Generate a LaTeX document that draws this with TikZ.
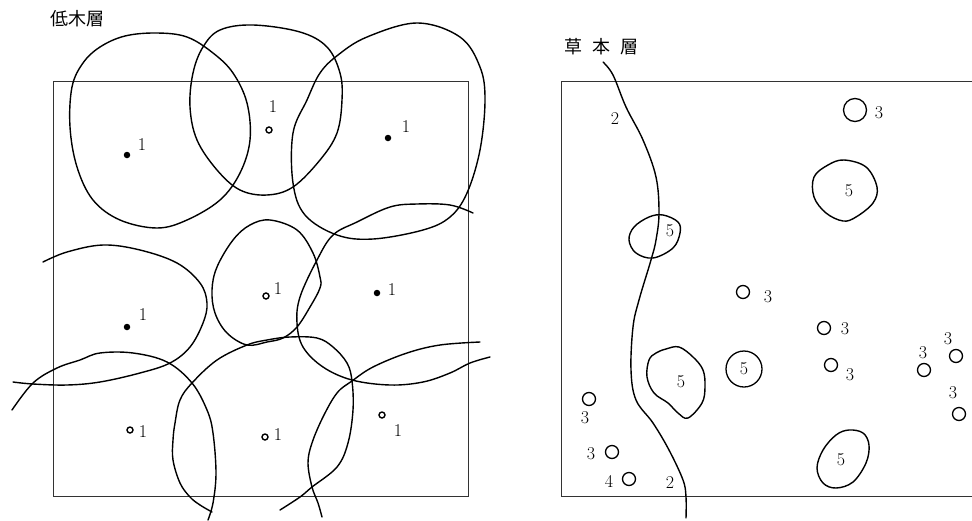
\documentclass[tikz,border=0pt]{standalone}
\usepackage{fontspec}
\newfontfamily\jpfont{Noto Sans CJK JP}
\begin{document}
\begin{tikzpicture}[x=1pt,y=-1pt,
  frame/.style={line width=1pt,black!80},
  curve/.style={line width=1.4pt,line join=round,line cap=round},
  dot/.style={circle,fill=black,inner sep=0pt,minimum size=6.5pt},
  ring/.style={circle,draw=black,line width=1.4pt,fill=white,inner sep=0pt,minimum size=6pt},
  plant/.style={circle,draw=black,line width=1.3pt,inner sep=0pt,minimum size=13pt},
  num/.style={inner sep=0pt,font=\fontsize{18}{18}\selectfont},
  title/.style={inner sep=0pt,font=\jpfont\fontsize{18}{18}\selectfont}]
\useasboundingbox (0,0) rectangle (972,520);

% ---------- shrub layer ----------
\node[title,anchor=west] (tshrub) at (50,19) {低木層};
\draw[frame] (53,81) rectangle (468,496);

% crown outlines
\draw[curve] plot[smooth cycle,tension=0.6] coordinates {(157,33) (187,37) (213,53) (233,73) (247,103) (250,140) (240,173) (220,200) (187,220) (157,228) (120,220) (93,200) (77,167) (70,127) (72,87) (83,63) (100,47) (125,36)};
\draw[curve] plot[smooth cycle,tension=0.6] coordinates {(220,30) (253,25) (300,32) (327,47) (340,73) (342,100) (337,133) (320,160) (293,187) (267,195) (240,190) (217,170) (197,140) (190,107) (193,73) (203,47)};
\draw[curve] plot[smooth cycle,tension=0.6] coordinates {(367,37) (417,23) (460,37) (480,67) (485,100) (480,150) (467,193) (450,217) (423,230) (373,239) (337,235) (305,215) (293,183) (293,133) (307,100) (320,73) (338,55)};
\draw[curve] plot[smooth,tension=0.6] coordinates {(43,262) (67,252) (103,245) (140,250) (177,263) (200,283) (207,303) (203,323) (190,347) (170,363) (140,373) (100,382) (67,385) (33,384) (13,382)};
\draw[curve] plot[smooth,tension=0.6] coordinates {(12,410) (33,383) (57,368) (80,360) (100,353) (133,353) (167,362) (192,383) (207,410) (213,433) (216,473) (213,503) (208,520)};
\draw[curve] plot[smooth cycle,tension=0.6] coordinates {(270,220) (297,230) (313,253) (320,277) (320,288) (310,307) (297,327) (283,338) (267,342) (247,345) (227,333) (215,313) (212,290) (217,267) (233,240) (250,225)};
\draw[curve] plot[smooth,tension=0.6] coordinates {(473,213) (450,205) (417,204) (390,207) (357,222) (333,235) (317,260) (300,297) (297,323) (303,347) (323,367) (352,380) (390,385) (423,382) (450,373) (470,363) (490,357)};
\draw[curve] plot[smooth,tension=0.6] coordinates {(212,512) (200,505) (190,497) (180,483) (173,460) (173,440) (175,423) (180,400) (192,383) (217,360) (247,345) (267,340) (290,337) (317,338) (333,347) (347,363) (352,381) (353,410) (348,443) (337,467) (312,487) (300,497) (280,510)};
\draw[curve] plot[smooth,tension=0.6] coordinates {(480,342) (440,345) (407,353) (373,367) (352,381) (337,393) (323,417) (312,443) (308,463) (312,487) (318,503) (322,517)};

% shrubs
\node[dot]  (s1) at (127,155) {};  \node[num] (l1) at (142,145) {1};
\node[ring] (s2) at (269,130) {};  \node[num] (l2) at (273,107) {1};
\node[dot]  (s3) at (388,138) {};  \node[num] (l3) at (406,127) {1};
\node[dot]  (s4) at (127,327) {};  \node[num] (l4) at (143,315) {1};
\node[ring] (s5) at (266,296) {};  \node[num] (l5) at (278,289) {1};
\node[dot]  (s6) at (377,293) {};  \node[num] (l6) at (392,290) {1};
\node[ring] (s7) at (130,430) {};  \node[num] (l7) at (143,432) {1};
\node[ring] (s8) at (265,437) {};  \node[num] (l8) at (278,435) {1};
\node[ring] (s9) at (382,415) {};  \node[num] (l9) at (398,431) {1};

% ---------- herb layer ----------
\node[title,anchor=west] (therb) at (564,47) {草\hspace{0.55em}本\hspace{0.55em}層};
\draw[frame] (972,81) -- (561,81) -- (561,496) -- (972,496);

% boundary of type 2
\draw[curve] plot[smooth,tension=0.6] coordinates {(603,62) (613,75) (626,107) (643,140) (656,177) (659,213) (656,240) (651,260) (639,300) (633,327) (631,370) (636,400) (653,423) (669,450) (683,480) (686,497) (686,518)};
\node[num] (b1) at (615,119) {2};
\node[num] (b2) at (670,483) {2};

% patches of type 5
\draw[curve] plot[smooth cycle,tension=0.6] coordinates {(663,215) (678,222) (680,233) (673,248) (653,258) (636,253) (629,240) (634,227) (649,217)};
\node[num] (p1) at (670,231) {5};
\draw[curve] plot[smooth cycle,tension=0.6] coordinates {(844,160) (866,167) (877,187) (873,203) (856,217) (843,221) (826,213) (814,197) (814,177) (828,165)};
\node[num] (p2) at (849,191) {5};
\draw[curve] plot[smooth cycle,tension=0.6] coordinates {(666,349) (679,347) (693,357) (703,370) (705,387) (702,403) (688,418) (678,413) (668,403) (654,393) (647,377) (649,360) (656,353)};
\node[num] (p3) at (681,382) {5};
\node[circle,draw,line width=1.3pt,minimum size=36pt,inner sep=0pt,font=\fontsize{18}{18}\selectfont] (p4) at (744,369) {5};
\draw[curve] plot[smooth cycle,tension=0.6] coordinates {(849,430) (863,433) (869,445) (866,463) (853,482) (836,488) (823,483) (817,468) (823,450) (836,435)};
\node[num] (p5) at (841,460) {5};

% single plants of types 3 and 4
\node[plant,minimum size=23pt] (h1) at (855,110) {}; \node[num] (k1) at (879,113) {3};
\node[plant] (h2)  at (743,292) {}; \node[num] (k2)  at (768,297) {3};
\node[plant] (h3)  at (824,328) {}; \node[num] (k3)  at (845,329) {3};
\node[plant] (h4)  at (831,365) {}; \node[num] (k4)  at (850,375) {3};
\node[plant] (h5)  at (924,370) {}; \node[num] (k5)  at (923,353) {3};
\node[plant] (h6)  at (956,356) {}; \node[num] (k6)  at (948,339) {3};
\node[plant] (h7)  at (959,414) {}; \node[num] (k7)  at (953,393) {3};
\node[plant] (h8)  at (589,399) {}; \node[num] (k8)  at (585,418) {3};
\node[plant] (h9)  at (612,452) {}; \node[num] (k9)  at (591,454) {3};
\node[plant] (h10) at (629,479) {}; \node[num] (k10) at (609,481) {4};
\end{tikzpicture}
\end{document}
